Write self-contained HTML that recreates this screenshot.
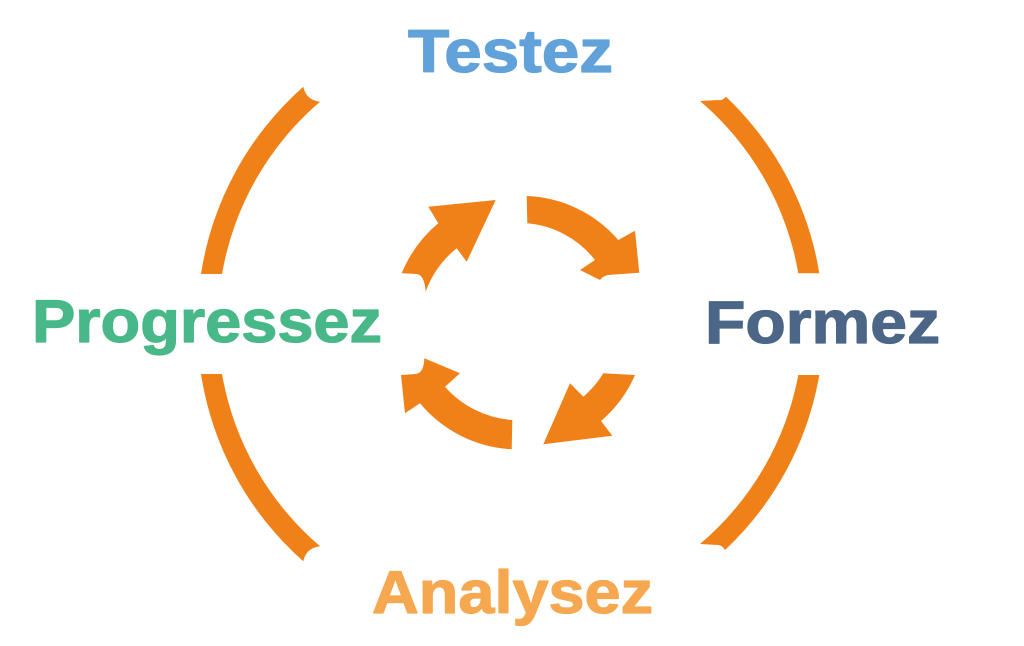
<!DOCTYPE html>
<html>
<head>
<meta charset="utf-8">
<style>
  html, body { margin: 0; padding: 0; background: #ffffff; }
  svg { display: block; }
  text { font-family: "Liberation Sans", Arial, sans-serif; font-weight: bold; stroke-width: 1.2; stroke-linejoin: round; }
</style>
</head>
<body>
<svg width="1024" height="646" viewBox="0 0 1024 646" xmlns="http://www.w3.org/2000/svg">
  <rect width="1024" height="646" fill="#ffffff"/>
  <g fill="#ef8118">
    <!-- big outer arcs -->
    <path d="M 201 274 A 314 314 0 0 1 303.3 86.7 Q 306 100 320 101.7 A 293 293 0 0 0 222 274 Z"/>
    <path d="M 819.3 273.3 A 313 313 0 0 0 726 96.7 Q 722 101 718 100 L 700 101 A 292 292 0 0 1 798.3 273.3 Z"/>
    <path d="M 201 374 A 314 314 0 0 0 303.3 561.3 Q 306 548 320 546.3 A 293 293 0 0 1 222 374 Z"/>
    <path d="M 819.3 375 A 313 313 0 0 1 725 550 Q 722 545 718 545 L 700 544 A 292 292 0 0 0 798.3 375 Z"/>

    <!-- inner cycle arrows -->
    <path d="M 401.7 273.3 L 416.7 274 Q 424.5 275 425.7 291.7 A 98 98 0 0 1 456.7 248.3 L 466.7 261.7 L 495.7 200 L 428.3 206.7 L 438.3 223.3 A 128 128 0 0 0 401.7 273.3 Z"/>
    <path d="M 526.7 196 A 127 127 0 0 1 618.3 240 L 635 230.7 L 639.3 272.7 L 608 275 Q 603 276 600 280 L 580 270 L 595 260 A 97 97 0 0 0 527.3 223.3 Z"/>
    <path d="M 603.3 373.3 L 635 375 A 127 127 0 0 1 601 421 L 612.3 435.7 L 543.3 444.3 L 570 383.3 L 583.3 396.7 A 97 97 0 0 0 603.3 373.3 Z"/>
    <path d="M 512.3 420 L 511.7 449.3 A 128 128 0 0 1 420 403.3 L 405 413.3 L 401 375 L 415.7 374 Q 424 373 424.3 358.3 L 460 373.3 L 445 386.7 A 99 99 0 0 0 512.3 420 Z"/>
  </g>

  <text x="408" y="72" font-size="60" fill="#62a2da" stroke="#62a2da" textLength="205" lengthAdjust="spacingAndGlyphs">Testez</text>
  <text x="32" y="342" font-size="60" fill="#48b888" stroke="#48b888" textLength="350" lengthAdjust="spacingAndGlyphs">Progressez</text>
  <text x="705" y="343" font-size="60" fill="#4b6686" stroke="#4b6686" textLength="235" lengthAdjust="spacingAndGlyphs">Formez</text>
  <text x="372" y="613" font-size="60" fill="#f5a84f" stroke="#f5a84f" textLength="281" lengthAdjust="spacingAndGlyphs">Analysez</text>
</svg>
</body>
</html>
